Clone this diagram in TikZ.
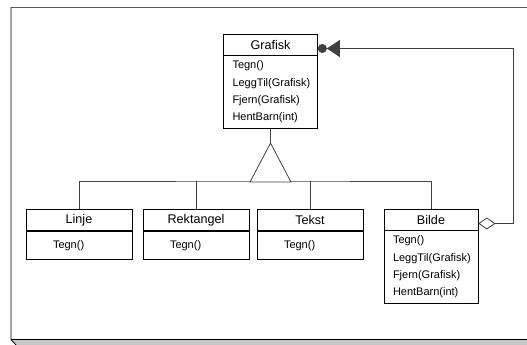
\documentclass[tikz,border=0pt]{standalone}
\usepackage{fontspec}
\setmainfont{Liberation Sans}
\usetikzlibrary{arrows.meta}

\begin{document}
\begin{tikzpicture}[x=1pt, y=-1pt,
    klasse/.style={draw, line width=0.7pt, minimum width=#1, minimum height=21pt, inner sep=0pt, font=\fontsize{12.6}{15}\selectfont},
    metoder/.style={draw, line width=0.7pt, anchor=north, align=left, font=\fontsize{11}{17.3}\selectfont},
    smal/.style={metoder, inner xsep=27pt, text width=52pt, minimum height=28pt},
    bred/.style={metoder, inner xsep=9pt, text width=76pt, minimum height=72.5pt},
    forbindelse/.style={line width=0.8pt, black!75}]

        \useasboundingbox (0,0) rectangle (527,345);

        % Draw the window frame
        \fill[gray!45] (11,339.5) -- (527,339.5) -- (527,345) -- (16,345) -- cycle;
        \draw[line width=1.2pt, gray!70!black] (11,7.5) -- (527,7.5);
        \draw[line width=0.8pt, black] (16,345) -- (11,339.5) -- (11,7.5);
        \draw[line width=0.8pt, black] (11,339.5) -- (527,339.5);

        % Define the classes
        \node[klasse=94pt] (grafisk) at (270.5, 44.5) {Grafisk};
        \node[bred] (grafiskops) at (grafisk.south) {Tegn()\\LeggTil(Grafisk)\\Fjern(Grafisk)\\HentBarn(int)};

        \node[klasse=106pt] (linje) at (79, 220) {Linje};
        \node[smal] (linjeops) at (linje.south) {Tegn()};

        \node[klasse=106pt] (rektangel) at (196, 220) {Rektangel};
        \node[smal] (rektangelops) at (rektangel.south) {Tegn()};

        \node[klasse=106pt] (tekst) at (310, 220) {Tekst};
        \node[smal] (tekstops) at (tekst.south) {Tegn()};

        \node[klasse=94pt] (bilde) at (431, 219.5) {Bilde};
        \node[bred] (bildeops) at (bilde.south) {Tegn()\\LeggTil(Grafisk)\\Fjern(Grafisk)\\HentBarn(int)};

        % Draw the tree up to the triangle
        \coordinate (bar) at (270.5, 181);      % Middle of the triangle base
        \draw[forbindelse] (linje.north) |- (bar) -| (bilde.north);
        \draw[forbindelse] (rektangel.north) -- (rektangel.north |- bar);
        \draw[forbindelse] (tekst.north) -- (tekst.north |- bar);

        % Draw the inheritance triangle
        \draw[forbindelse] (grafiskops.south) -- ++(0,14.5) coordinate (apex);
        \draw[forbindelse, fill=white] (apex) -- ++(-20.5,39) -- ++(41,0) -- cycle;

        % Draw the aggregation from Bilde back to Grafisk
        \draw[forbindelse, {Diamond[open, fill=white, length=17pt, width=12pt, line width=0.8pt]}-{Triangle[length=13pt, width=17pt, sep=0pt] Circle[length=9pt, sep=0pt]}]
            ([yshift=-4pt]bilde.east) -- ++(35,0) |- ([yshift=-4pt]grafisk.east);
    \end{tikzpicture}
\end{document}
